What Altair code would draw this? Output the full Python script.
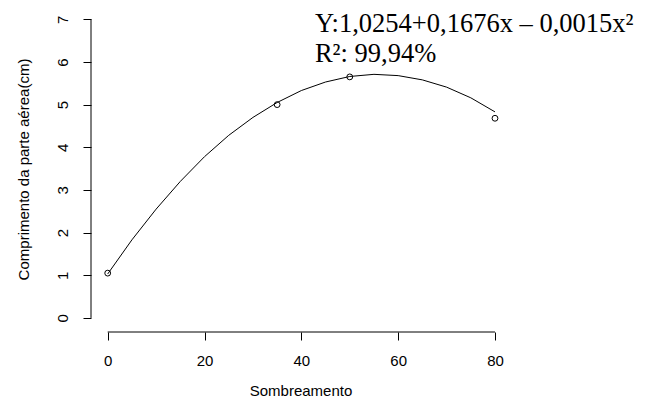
import altair as alt
import pandas as pd

# observed points
obs_x = [0, 35, 50, 80]
obs_y = [1.05, 5.0, 5.65, 4.68]

# fitted curve
curve_x = [0, 5, 10, 15, 20, 25, 30, 35, 40, 45, 50, 55, 60, 65, 70, 75, 80]
curve_y = [1.03, 1.83, 2.55, 3.20, 3.78, 4.28, 4.70, 5.05, 5.33, 5.53, 5.66, 5.71,
           5.68, 5.58, 5.41, 5.16, 4.83]

x_ticks = [0, 20, 40, 60, 80]
y_ticks = [0, 1, 2, 3, 4, 5, 6, 7]

eq_line1 = "Y:1,0254+0,1676x \u2013 0,0015x\u00b2"
eq_line2 = "R\u00b2: 99,94%"

X_DOM = [-3.45, 83.1]
Y_DOM = [-0.33, 7.265]

pts = pd.DataFrame({"x": obs_x, "y": obs_y})
crv = pd.DataFrame({"x": curve_x, "y": curve_y})

FONT = "Liberation Sans"

xs = alt.Scale(domain=X_DOM, nice=False, zero=False)
ys = alt.Scale(domain=Y_DOM, nice=False, zero=False)

xaxis = alt.Axis(values=x_ticks, title="Sombreamento", domain=False, grid=False,
                 tickSize=8, tickColor="black", tickWidth=1,
                 labelFont=FONT, labelFontSize=15, labelColor="black",
                 labelBaseline="alphabetic", labelPadding=25, labelAlign="center",
                 titleFont=FONT, titleFontSize=15, titleFontWeight="normal",
                 titleColor="black", titleBaseline="alphabetic",
                 titleX=209.5, titleY=63, titleAlign="center")
yaxis = alt.Axis(values=y_ticks, title="Comprimento da parte aérea(cm)", domain=False,
                 grid=False, tickSize=8, tickColor="black", tickWidth=1,
                 labelFont=FONT, labelFontSize=15, labelColor="black",
                 labelAngle=270, labelAlign="center", labelBaseline="alphabetic",
                 labelPadding=16,
                 titleFont=FONT, titleFontSize=15, titleFontWeight="normal",
                 titleColor="black", titleAngle=270, titleBaseline="alphabetic",
                 titleAlign="center", titleX=-62.5, titleY=161)

line = alt.Chart(crv).mark_line(color="black", strokeWidth=1).encode(
    x=alt.X("x:Q", scale=xs, axis=xaxis),
    y=alt.Y("y:Q", scale=ys, axis=yaxis),
)

points = alt.Chart(pts).mark_point(shape="circle", filled=False, color="black",
                                   size=34, strokeWidth=1, opacity=1).encode(
    x=alt.X("x:Q", scale=xs),
    y=alt.Y("y:Q", scale=ys),
)

xdomain = alt.Chart(pd.DataFrame({"a": [min(x_ticks)], "b": [max(x_ticks)]})).mark_rule(
    color="black", strokeWidth=1).encode(
    x=alt.X("a:Q", scale=xs), x2="b:Q",
    y=alt.datum(Y_DOM[0], scale=ys)
)
ydomain = alt.Chart(pd.DataFrame({"a": [min(y_ticks)], "b": [max(y_ticks)]})).mark_rule(
    color="black", strokeWidth=1).encode(
    y=alt.Y("a:Q", scale=ys), y2="b:Q",
    x=alt.datum(X_DOM[0], scale=xs)
)

t1 = alt.Chart(pd.DataFrame({"t": [eq_line1]})).mark_text(
    font="Liberation Serif", fontSize=26.5, align="left", baseline="alphabetic",
    color="black").encode(x=alt.datum(42.8, scale=xs),
                          y=alt.datum(6.71, scale=ys), text="t:N")
t2 = alt.Chart(pd.DataFrame({"t": [eq_line2]})).mark_text(
    font="Liberation Serif", fontSize=26.5, align="left", baseline="alphabetic",
    color="black").encode(x=alt.datum(42.8, scale=xs),
                          y=alt.datum(6.0, scale=ys), text="t:N")

chart = alt.layer(line, xdomain, ydomain, points, t1, t2).properties(
    width=419, height=324,
    padding={"left": 83, "top": 0, "right": 128, "bottom": 66},
    autosize="none",
    background="white",
).configure_view(stroke=None).configure_axis(grid=False)

chart.save("out.html", embed_options={"renderer": "svg", "actions": False})
